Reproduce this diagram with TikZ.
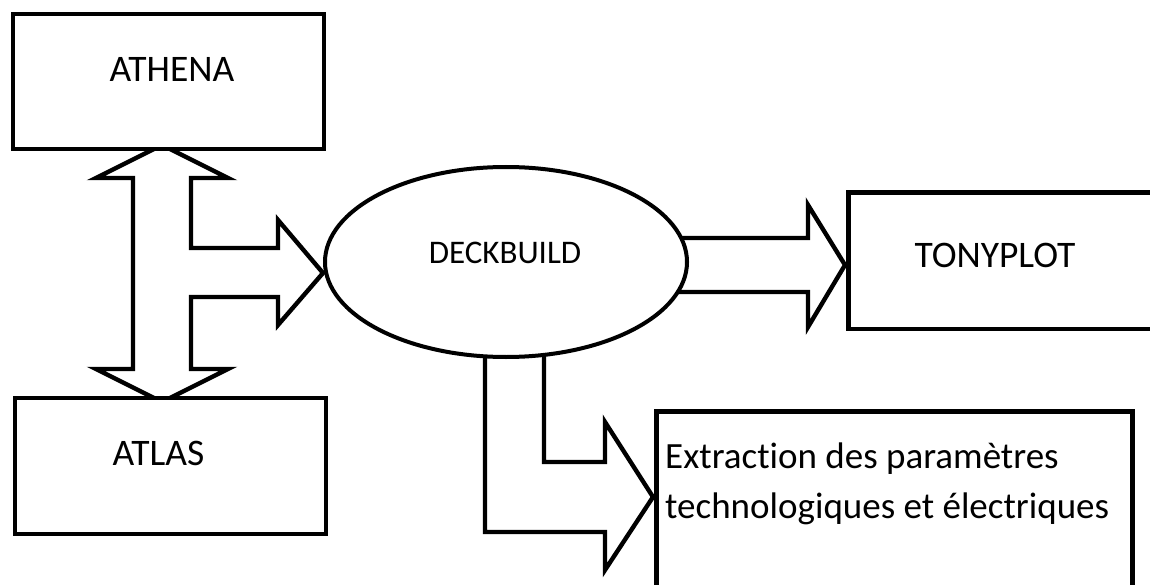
\documentclass[tikz,border=0pt]{standalone}
\usepackage{fontspec}
\setmainfont{Carlito}[Ligatures={NoCommon}]
\usetikzlibrary{shapes.geometric}
\tikzset{
  box/.style={draw=black, line width=4.7pt, fill=white, inner sep=0pt},
  oval/.style={ellipse, draw=black, line width=4pt, fill=white, inner sep=0pt},
  blockarrow/.style={draw=black, line width=4.4pt, fill=white, line join=miter, miter limit=10},
  lbl/.style={inner sep=0pt, anchor=base, font=\fontsize{37.5}{45}\selectfont},
}
\begin{document}
\begin{tikzpicture}[x=1pt, y=-1pt]
\useasboundingbox (0,0) rectangle (1150,585);

% block arrows (drawn first, boxes cover their ends)
\draw[blockarrow] (162,145) -- (228,178) -- (191,178) -- (191,248) -- (278,248) -- (278,220)
  -- (323,273) -- (278,325) -- (278,297) -- (191,297) -- (191,369) -- (228,369)
  -- (162,402) -- (96,369) -- (133,369) -- (133,178) -- (96,178) -- cycle;
\draw[blockarrow] (660,238) -- (808,238) -- (808,205) -- (845,265) -- (808,327) -- (808,292) -- (660,292) -- cycle;
\draw[blockarrow] (485,335) -- (485,532) -- (605,532) -- (605,570) -- (653,497) -- (605,422)
  -- (605,462) -- (544,462) -- (544,335) -- cycle;

% boxes
\node[box, minimum width=311pt, minimum height=135pt] (athena) at (168.5,81.5) {};
\node[box, minimum width=311pt, minimum height=136pt] (atlas) at (170.5,466) {};
\node[box, minimum width=340pt, minimum height=136pt, anchor=north west] (tonyplot) at (846,190.5) {};
\node[box, minimum width=476pt, minimum height=220pt, anchor=north west] (extract) at (654,409) {};
\node[oval, minimum width=362pt, minimum height=190pt] (deck) at (506,262) {};

% labels
\node[lbl] (tathena) at (172,82) {ATHENA};
\node[lbl] (tatlas) at (158.5,465) {ATLAS};
\node[lbl] (ttony) at (995,267) {TONYPLOT};
\node[lbl, font=\fontsize{33}{40}\selectfont] (tdeck) at (505,263) {DECKBUILD};
\node[inner sep=0pt, anchor=base west, align=left, font=\fontsize{37}{50}\selectfont] (textract) at (665,518)
  {Extraction des paramètres\\technologiques et électriques};
\end{tikzpicture}
\end{document}
